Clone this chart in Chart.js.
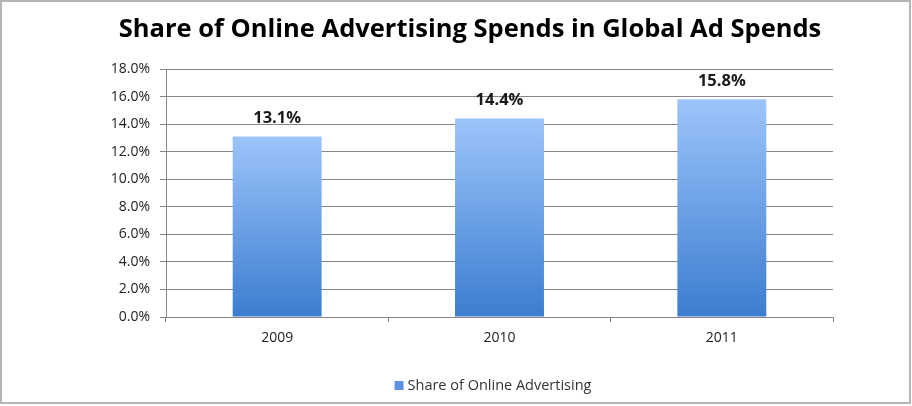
<!DOCTYPE html>
<html>
<head>
<meta charset="utf-8">
<script src="https://cdn.jsdelivr.net/npm/chart.js@4.4.1/dist/chart.umd.min.js"></script>
<style>
  html, body { margin: 0; padding: 0; background: #ffffff; }
  #wrap { width: 912px; height: 406px; }
</style>
</head>
<body>
<div id="wrap"><canvas id="c" width="912" height="406"></canvas></div>
<script>
// Chart content
const chartTitle = 'Share of Online Advertising Spends in Global Ad Spends';
const years = ['2009', '2010', '2011'];
const onlineShare = [13.1, 14.4, 15.8];
const seriesName = 'Share of Online Advertising';
const yTickMin = 0;
const yTickMax = 18;
const yTickStep = 2;

const FONT = '"Open Sans", "DejaVu Sans", sans-serif';
const TOP_BLUE = '#9dc4fb';
const BOTTOM_BLUE = '#3b7dd0';
const GRID = '#858585';

// Vertical gradient per bar: light at the top of the bar, deeper blue at its base
function barGradient(ctx) {
  const chart = ctx.chart;
  const area = chart.chartArea;
  if (!area || ctx.type !== 'data') return TOP_BLUE;
  const y = chart.scales.y;
  const top = y.getPixelForValue(ctx.parsed.y);
  const bottom = y.getPixelForValue(0);
  const g = chart.ctx.createLinearGradient(0, top, 0, bottom);
  g.addColorStop(0, TOP_BLUE);
  g.addColorStop(1, BOTTOM_BLUE);
  return g;
}

// Frame, title, value labels and legend
const decorations = {
  id: 'decorations',
  afterDraw(chart) {
    const c = chart.ctx;
    c.save();

    // outer frame
    c.strokeStyle = '#b5b5b5';
    c.lineWidth = 2;
    c.strokeRect(1, 1, 909, 402);

    // title
    c.fillStyle = '#000000';
    c.font = 'bold 25.5px ' + FONT;
    c.textAlign = 'center';
    c.textBaseline = 'middle';
    c.fillText(chartTitle, 470, 30);

    // value labels above bars
    const meta = chart.getDatasetMeta(0);
    c.font = 'bold 16.5px ' + FONT;
    c.fillStyle = '#1a1a1a';
    meta.data.forEach((bar, i) => {
      c.fillText(onlineShare[i].toFixed(1) + '%', bar.x, bar.y - 18);
    });

    // legend
    c.font = '14.5px ' + FONT;
    c.textAlign = 'left';
    const text = seriesName;
    const tw = c.measureText(text).width;
    const box = 9;
    const gap = 4;
    const total = box + gap + tw;
    const x0 = 493 - total / 2;
    c.fillStyle = '#5b93e0';
    c.fillRect(x0, 381, box, box);
    c.fillStyle = '#333333';
    c.fillText(text, x0 + box + gap, 386);

    c.restore();
  }
};

new Chart(document.getElementById('c'), {
  type: 'bar',
  data: {
    labels: years,
    datasets: [{
      label: seriesName,
      data: onlineShare,
      backgroundColor: barGradient,
      borderWidth: 0,
      categoryPercentage: 1.0,
      barPercentage: 0.4
    }]
  },
  options: {
    responsive: false,
    animation: false,
    layout: { padding: { top: 69, right: 79, left: 0, bottom: 0 } },
    plugins: {
      legend: { display: false },
      title: { display: false },
      tooltip: { enabled: false }
    },
    scales: {
      x: {
        afterFit(s) { s.height = 89; },
        grid: {
          offset: true,
          drawOnChartArea: false,
          drawTicks: true,
          tickLength: 5,
          color: GRID
        },
        border: { display: true, color: GRID, width: 1 },
        ticks: {
          padding: 8,
          color: '#222222',
          font: { family: FONT, size: 14 }
        }
      },
      y: {
        min: yTickMin,
        max: yTickMax,
        afterFit(s) { s.width = 166; },
        grid: {
          color: GRID,
          tickLength: 6,
          drawTicks: true
        },
        border: { display: true, color: GRID, width: 1 },
        ticks: {
          stepSize: yTickStep,
          padding: 10,
          color: '#222222',
          font: { family: FONT, size: 14 },
          callback: v => Number(v).toFixed(1) + '%'
        }
      }
    }
  },
  plugins: [decorations]
});
</script>
</body>
</html>
